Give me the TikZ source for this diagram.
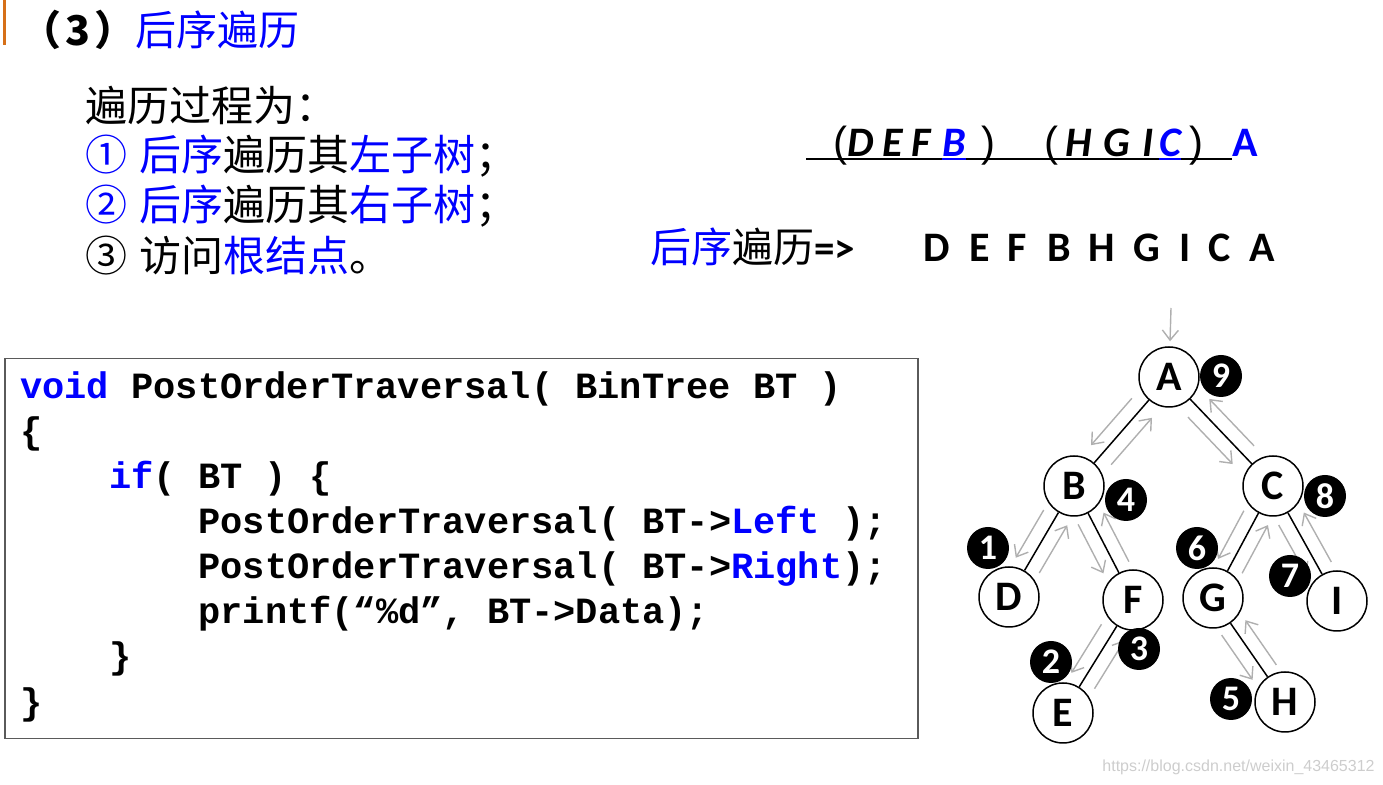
\documentclass[tikz,border=0pt]{standalone}
\usepackage{fontspec}
\setsansfont{Carlito}
\setmonofont{Liberation Mono}
\newfontfamily\cjkfont{Noto Sans CJK SC}
\newfontfamily\parenfont{Liberation Sans}
\usetikzlibrary{arrows.meta,calc}
\definecolor{blue_text}{RGB}{0,0,255}
\definecolor{gray_arrow}{RGB}{175,175,175}
\definecolor{orange_bar}{RGB}{214,112,24}
\definecolor{gray_frame}{RGB}{90,90,90}
\definecolor{gray_mark}{RGB}{205,205,205}

% gray arrow beside an edge, on the right of the walk
\newcommand{\walkarrow}[2]{\draw[walk] ($(#1)!0.28!(#2)!7pt!-90:(#2)$) -- ($(#1)!0.71!(#2)!7pt!-90:(#2)$);}

\begin{document}
\begin{tikzpicture}[x=0.5pt,y=-0.5pt,
    treenode/.style={circle,draw,line width=0.75pt,fill=white,minimum size=30pt,inner sep=0pt,
                     font=\sffamily\bfseries\fontsize{21}{21}\selectfont},
    badge/.style={circle,fill=black,text=white,minimum size=21pt,inner sep=0pt,
                  font=\sffamily\bfseries\fontsize{18}{18}\selectfont},
    walk/.style={draw=gray_arrow,line width=0.7pt,-{Straight Barb[length=5pt,width=8pt]}},
    cjktext/.style={anchor=west,inner sep=0pt,font=\cjkfont\fontsize{21}{21}\selectfont},
    codeline/.style={anchor=base west,inner sep=0pt,font=\ttfamily\bfseries\fontsize{18.5}{18.5}\selectfont},
    letter/.style={anchor=base,inner sep=0pt,font=\sffamily\bfseries\fontsize{21}{21}\selectfont},
    grpletter/.style={anchor=base,inner sep=0pt,font=\sffamily\bfseries\itshape\fontsize{21}{21}\selectfont},
    paren/.style={anchor=base,inner sep=0pt,font=\parenfont\fontsize{21}{21}\selectfont}]
    \useasboundingbox (0,0) rectangle (1383,785);

    % title
    \fill[orange_bar] (3,0) rectangle (6,45);
    \node[cjktext,font=\cjkfont\fontsize{20.5}{20.5}\selectfont] (title) at (20,30)
        {{\bfseries （\hspace{2pt}3\hspace{2pt}）}\textcolor{blue_text}{后序遍历}};

    % steps
    \node[cjktext] (steps) at (85,106) {遍历过程为：};
    \node[cjktext] (step1) at (85,156) {\textcolor{blue_text}{①\hspace{6pt}后序}遍历其\textcolor{blue_text}{左子树}；};
    \node[cjktext] (step2) at (85,206) {\textcolor{blue_text}{②\hspace{6pt}后序}遍历其\textcolor{blue_text}{右子树}；};
    \node[cjktext] (step3) at (85,256) {③\hspace{6pt}访问\textcolor{blue_text}{根结点}。};

    % grouped order
    \foreach \x/\p [count=\i] in {840/{(},988/{)},1051/{(},1196/{)}}
        \node[paren] (paren\i) at (\x,157) {\p};
    \foreach \x/\c/\col in {861/D/black,893/E/black,921/F/black,954/B/blue_text,
                            1079/H/black,1117/G/black,1148/I/black,1170/C/blue_text}
        \node[grpletter,text=\col] (grp-\c) at (\x,157) {\c};
    \node[letter,text=blue_text] (grp-A) at (1245,157) {A};
    \coordinate (ul-start) at (806,159);
    \coordinate (ul-end) at (1232,159);
    \draw[line width=1pt] (ul-start) -- (ul-end);
    \draw[blue_text,line width=1pt] (grp-B.west |- ul-start) -- (grp-B.east |- ul-start);
    \draw[blue_text,line width=1pt] (grp-C.west |- ul-start) -- (grp-C.east |- ul-start);

    % result
    \node[cjktext,font=\cjkfont\fontsize{20.5}{20.5}\selectfont] (post) at (650,247)
        {\textcolor{blue_text}{后序}遍历{\sffamily\bfseries =>}};
    \foreach \x/\c in {937/D,980/E,1017/F,1059/B,1102/H,1147/G,1185/I,1220/C,1262/A}
        \node[letter] (seq-\c) at (\x,262) {\c};

    % code
    \node[draw=gray_frame,line width=0.75pt,minimum width=456.5pt,minimum height=190pt,
          inner sep=0pt,anchor=north west] (codebox) at (4,358) {};
    \node[codeline] (code1) at (20,399) {\textcolor{blue_text}{void} PostOrderTraversal( BinTree BT )};
    \node[codeline] (code2) at (20,444) {\{};
    \node[codeline] (code3) at (109,489) {\textcolor{blue_text}{if}( BT ) \{};
    \node[codeline] (code4) at (198,534) {PostOrderTraversal( BT->\textcolor{blue_text}{Left} );};
    \node[codeline] (code5) at (198,579) {PostOrderTraversal( BT->\textcolor{blue_text}{Right});};
    \node[codeline] (code6) at (198,624) {printf(“\%d”, BT->Data);};
    \node[codeline] (code7) at (109,669) {\}};
    \node[codeline] (code8) at (20,715) {\}};

    % tree
    \node[treenode] (A) at (1169,377) {A};
    \node[treenode] (B) at (1074,486) {B};
    \node[treenode] (C) at (1273,486) {C};
    \node[treenode] (D) at (1009,597) {D};
    \node[treenode] (F) at (1133,600) {F};
    \node[treenode] (E) at (1063,713) {E};
    \node[treenode] (G) at (1213,598) {G};
    \node[treenode] (I) at (1337,601) {I};
    \node[treenode] (H) at (1285,702) {H};

    \coordinate (entry) at (1171,308);
    \draw[walk,shorten >=2.5pt] (entry) -- (A);
    \foreach \p/\c in {A/B,A/C,B/D,B/F,F/E,C/G,C/I,G/H} {
        \draw[line width=0.75pt] (\p) -- (\c);
        \walkarrow{\p}{\c}
        \walkarrow{\c}{\p}
    }

    \foreach \n/\x/\y in {1/988/548,2/1051/662,3/1139/649,4/1126/500,5/1231/699,
                          6/1197/548,7/1290/576,8/1325/496,9/1221/376}
        \node[badge] (badge\n) at (\x,\y) {\n};

    \node[anchor=east,inner sep=0pt,text=gray_mark,font=\parenfont\fontsize{8}{8}\selectfont]
        (mark) at (1375,767) {https://blog.csdn.net/weixin\_43465312};
\end{tikzpicture}
\end{document}
